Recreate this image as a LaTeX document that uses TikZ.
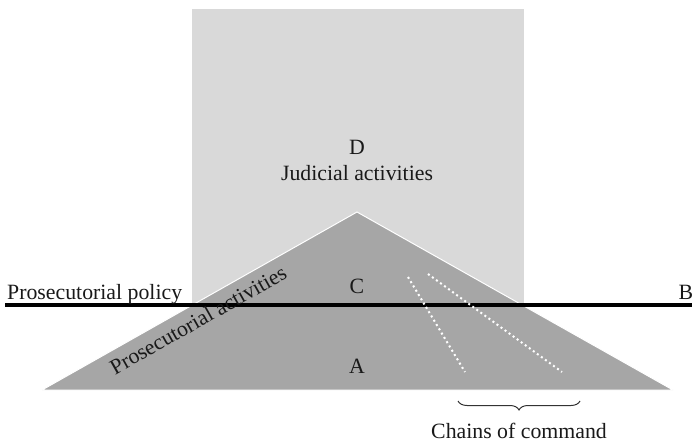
\documentclass[tikz,border=0pt]{standalone}
\usepackage{fontspec}
\setmainfont{Liberation Serif}
\usetikzlibrary{decorations.pathreplacing}
\definecolor{lightbox}{HTML}{D9D9D9}
\definecolor{tri}{HTML}{A6A6A6}
\tikzset{
  lbl/.style={font=\fontsize{21.8}{26}\selectfont, inner sep=0pt, text=black!90},
  chain/.style={white, line width=2pt, dash pattern=on 2pt off 3pt},
}
\begin{document}
\begin{tikzpicture}[x=1pt,y=-1pt]
\useasboundingbox (0,0) rectangle (692,443);
% judicial box
\fill[lightbox] (192,9) rectangle (524,305);
% triangle
\coordinate (L) at (42,390);
\coordinate (R) at (673,390);
\coordinate (T) at (357,212);
\filldraw[fill=tri, draw=white, line width=1pt] (L) -- (T) -- (R) -- cycle;
% policy line
\coordinate (P1) at (5,305);
\coordinate (P2) at (692,305);
\draw[line width=4.5pt] (P1) -- (P2);
% labels
\node[lbl, anchor=base west] (pol) at (7,299) {Prosecutorial policy};
\node[lbl] (B) at (686,292) {B};
\node[lbl] (D) at (357,147) {D};
\node[lbl] (J) at (357,173) {Judicial activities};
\node[lbl] (C) at (357,286) {C};
\node[lbl] (A) at (357,366) {A};
\node[lbl, rotate=29.5] (PA) at (198,320) {Prosecutorial activities};
% chains of command
\coordinate (c1a) at (408,277);
\coordinate (c1b) at (465,372);
\coordinate (c2a) at (428,274);
\coordinate (c2b) at (562,372);
\draw[chain] (c1a) -- (c1b);
\draw[chain] (c2a) -- (c2b);
\coordinate (b1) at (458,401);
\coordinate (b2) at (580,401);
\draw[black!80, line width=1pt, decorate, decoration={brace, mirror, amplitude=9pt}] (b1) -- (b2);
\node[lbl] (CC) at (519,431) {Chains of command};
\end{tikzpicture}
\end{document}
